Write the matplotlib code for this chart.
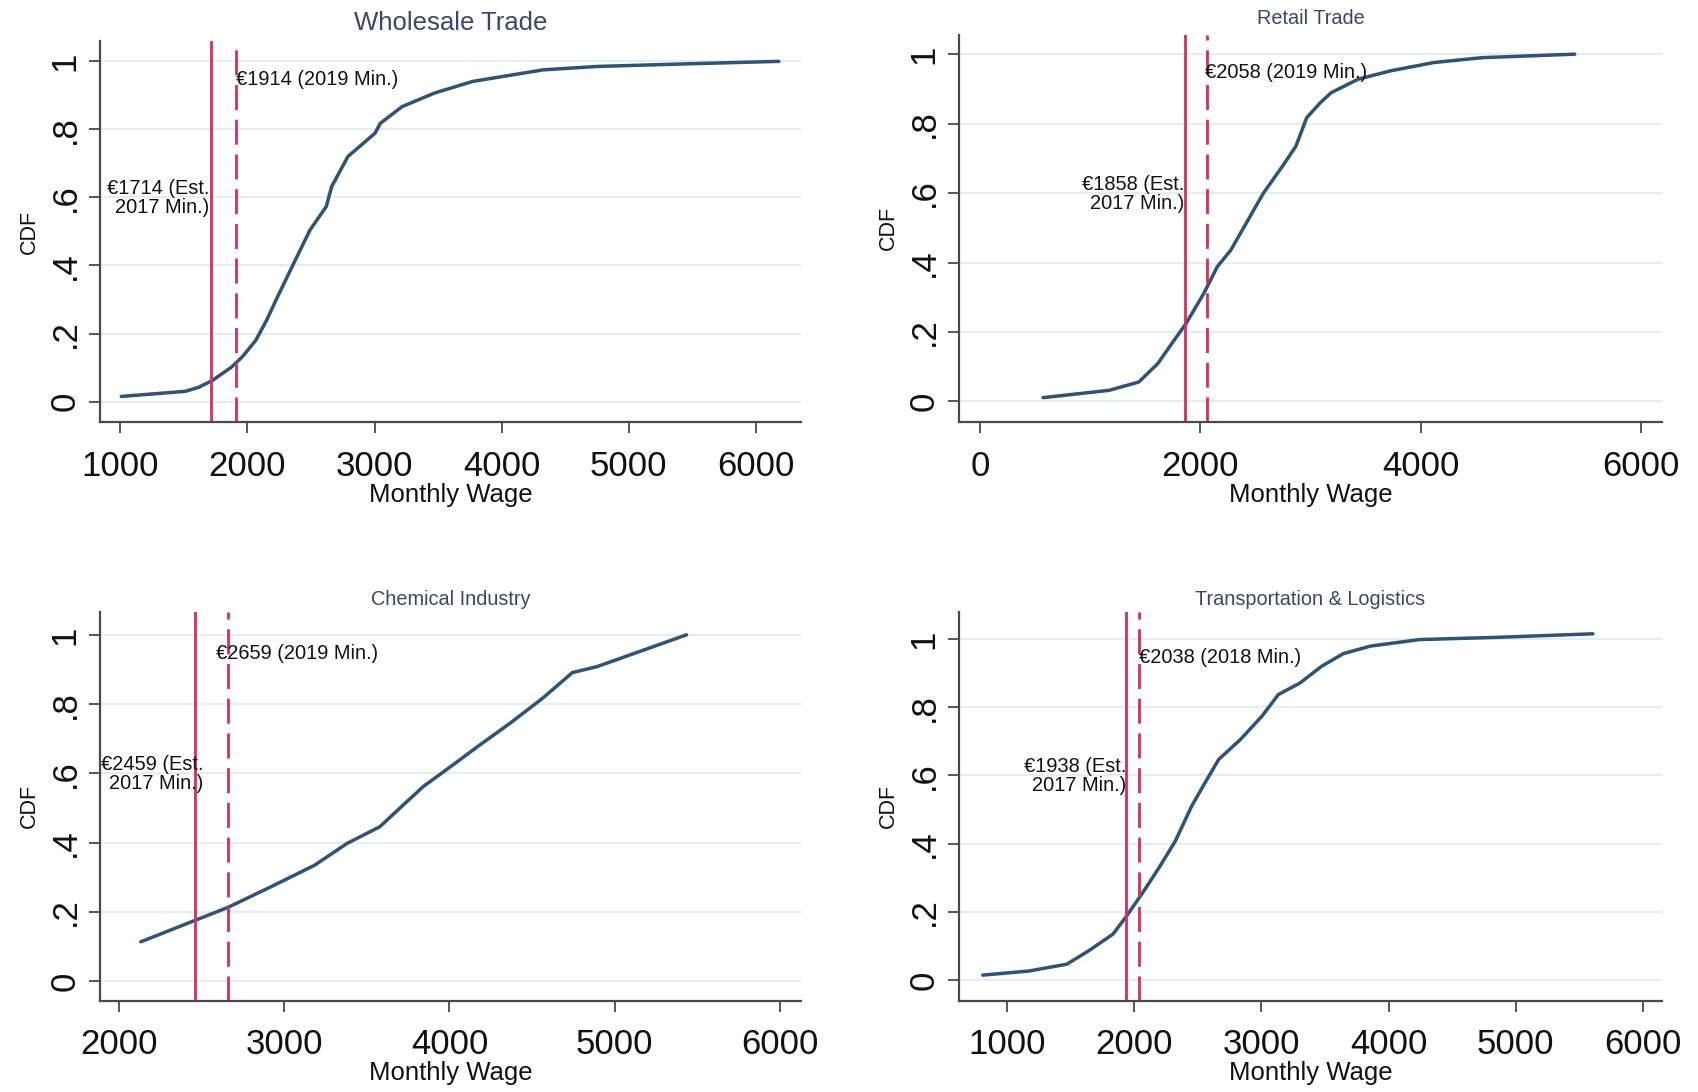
import matplotlib
matplotlib.use("Agg")
import matplotlib.pyplot as plt
import numpy as np

plt.rcParams['font.family'] = ['Liberation Sans', 'DejaVu Sans']

# panel titles
titles = ["Wholesale Trade", "Retail Trade", "Chemical Industry", "Transportation & Logistics"]

# CDF curves (monthly wage, cdf)
wage_wholesale = [1008, 1512, 1618, 1725, 1874, 1959, 2066, 2151, 2236, 2364, 2492, 2620, 2663,
                  2790, 3004, 3046, 3217, 3473, 3771, 4325, 4751, 5391, 6180]
cdf_wholesale = [0.015, 0.030, 0.042, 0.062, 0.101, 0.131, 0.180, 0.239, 0.307, 0.406, 0.504, 0.573, 0.632,
                 0.720, 0.789, 0.818, 0.867, 0.907, 0.941, 0.975, 0.985, 0.992, 1.0]

wage_retail = [571, 1171, 1441, 1613, 1761, 1869, 2031, 2154, 2277, 2400, 2573, 2745, 2868,
               2966, 3089, 3188, 3434, 3728, 4122, 4564, 5401]
cdf_retail = [0.011, 0.032, 0.056, 0.109, 0.176, 0.224, 0.311, 0.388, 0.436, 0.504, 0.600, 0.677, 0.735,
              0.817, 0.860, 0.889, 0.928, 0.952, 0.976, 0.990, 1.0]

wage_chemical = [2131, 2460, 2657, 2920, 3183, 3380, 3578, 3709, 3841, 4005, 4169, 4367, 4564,
                 4744, 4892, 5435]
cdf_chemical = [0.114, 0.176, 0.213, 0.273, 0.335, 0.398, 0.446, 0.504, 0.562, 0.619, 0.677, 0.745, 0.817,
                0.891, 0.908, 1.0]

wage_transport = [808, 1171, 1469, 1640, 1832, 1939, 2067, 2195, 2323, 2451, 2557, 2664, 2834,
                  3005, 3133, 3304, 3474, 3645, 3858, 4242, 4882, 5608]
cdf_transport = [0.015, 0.027, 0.047, 0.086, 0.135, 0.188, 0.257, 0.330, 0.408, 0.510, 0.579, 0.647, 0.705,
                 0.774, 0.837, 0.871, 0.920, 0.957, 0.979, 0.998, 1.005, 1.015]

# minimum wage markers
est_min = [1714, 1858, 2459, 1938]
actual_min = [1914, 2058, 2659, 2038]
actual_year = [2019, 2019, 2019, 2018]

# x axis ticks per panel
xticks_list = [[1000, 2000, 3000, 4000, 5000, 6000],
               [0, 2000, 4000, 6000],
               [2000, 3000, 4000, 5000, 6000],
               [1000, 2000, 3000, 4000, 5000, 6000]]
yticks = [0, 0.2, 0.4, 0.6, 0.8, 1.0]
ytick_labels = ["0", ".2", ".4", ".6", ".8", "1"]

wages = [wage_wholesale, wage_retail, wage_chemical, wage_transport]
cdfs = [cdf_wholesale, cdf_retail, cdf_chemical, cdf_transport]

# layout (figure fractions) and axis limits
positions = [[0.0587, 0.6136, 0.4133, 0.3489],
             [0.5645, 0.6136, 0.4145, 0.3546],
             [0.0587, 0.0836, 0.4133, 0.3560],
             [0.5645, 0.0836, 0.4145, 0.3560]]
xlims = [(838, 6358), (-197, 6197), (1882, 6131), (617, 6154)]
ylims = [(-0.06, 1.06), (-0.059, 1.056), (-0.056, 1.066), (-0.06, 1.079)]
title_y = [1.030, 1.028, 1.017, 1.017]
title_size = [18.5, 14.3, 14.3, 14.3]
# small data-unit nudges for the labels
lab_dx = [[0, -15], [-20, 0], [-75, 50], [0, 0]]

line_col = "#2e5377"
red = "#d42e5b"
grid_col = "#e5edef"
axis_col = "#4a4a4a"
title_col = "#3b4766"

fig = plt.figure(figsize=(16.98, 10.92), dpi=100)

for i in range(4):
    ax = fig.add_axes(positions[i])
    ax.set_xlim(*xlims[i])
    ax.set_ylim(*ylims[i])
    ax.set_yticks(yticks)
    ax.set_yticklabels(ytick_labels, rotation=90, va='center')
    ax.set_xticks(xticks_list[i])
    ax.tick_params(axis='both', labelsize=25, length=8, width=1.3, color=axis_col,
                   labelcolor="#111111", direction='out')
    ax.tick_params(axis='x', pad=12)
    ax.tick_params(axis='y', pad=5)
    for s in ['top', 'right']:
        ax.spines[s].set_visible(False)
    for s in ['left', 'bottom']:
        ax.spines[s].set_color(axis_col)
        ax.spines[s].set_linewidth(1.6)
    ax.grid(axis='y', color=grid_col, linewidth=1.5)
    ax.set_axisbelow(True)

    ax.plot(wages[i], cdfs[i], color=line_col, linewidth=2.5, solid_capstyle='round',
            solid_joinstyle='round')
    ax.axvline(est_min[i], color=red, linewidth=2.0)
    ax.axvline(actual_min[i], color=red, linewidth=2.0, linestyle=(0, (9, 3.5)))

    ax.text(actual_min[i] + lab_dx[i][0], 0.947, "€%d (%d Min.)" % (actual_min[i], actual_year[i]),
            ha='left', va='center', fontsize=14.4, color="#111111")
    ax.text(est_min[i] + lab_dx[i][1], 0.597, "€%d (Est.\n2017 Min.)" % est_min[i],
            ha='right', va='center', fontsize=14.4, color="#111111", multialignment='right',
            linespacing=1.0)

    ax.set_title(titles[i], fontsize=title_size[i], color=title_col, y=title_y[i], pad=0)
    ax.set_xlabel("Monthly Wage", fontsize=18.5, color="#111111", labelpad=0)
    ax.set_ylabel("CDF", fontsize=15.5, color="#111111", labelpad=6)

fig.savefig("out.png", dpi=100, facecolor='white')
